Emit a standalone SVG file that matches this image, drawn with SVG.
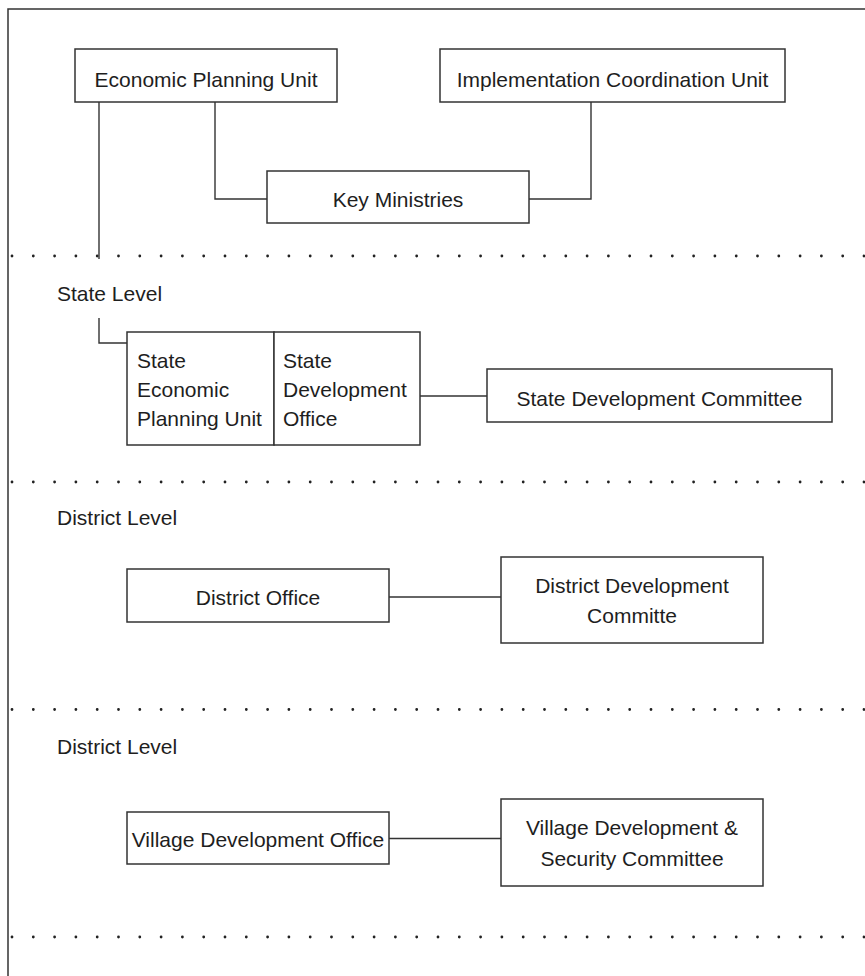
<svg xmlns="http://www.w3.org/2000/svg" width="865" height="976" viewBox="0 0 865 976">
<defs>
<style>
.box{fill:#fff;stroke:#333;stroke-width:1.5}
.con{fill:none;stroke:#333;stroke-width:1.4}
.frame{fill:none;stroke:#333;stroke-width:1.5}
.dots{stroke:#222;stroke-width:2.8;stroke-linecap:round;stroke-dasharray:0 21.3}
text{font-family:"Liberation Sans",Arial,Helvetica,sans-serif;font-size:21px;fill:#1e1e1e}
.c{text-anchor:middle}
</style>
</defs>
<rect x="0" y="0" width="865" height="976" fill="#fff"/>
<path class="frame" d="M8 976 V9 H865"/>
<g id="separators">
<line class="dots" x1="12" y1="256" x2="865" y2="256"/>
<line class="dots" x1="12" y1="482" x2="865" y2="482"/>
<line class="dots" x1="12" y1="709.5" x2="865" y2="709.5"/>
<line class="dots" x1="12" y1="937" x2="865" y2="937"/>
</g>
<g id="level-labels">
<text x="57" y="301">State Level</text>
<text x="57" y="525">District Level</text>
<text x="57" y="754">District Level</text>
</g>
<g id="connectors">
<path class="con" d="M215 102 V199 H267"/>
<path class="con" d="M591 102 V199 H529"/>
<path class="con" d="M99 102 V259"/>
<path class="con" d="M99 318 V343 H127"/>
<path class="con" d="M420 396 H487"/>
<path class="con" d="M389 597 H501"/>
<path class="con" d="M389 838.5 H501"/>
</g>
<g id="economic-planning-unit">
<rect class="box" x="75" y="49" width="262" height="53"/>
<text class="c" x="206" y="87">Economic Planning Unit</text>
</g>
<g id="implementation-coordination-unit">
<rect class="box" x="440" y="49" width="345" height="53"/>
<text class="c" x="612.5" y="87">Implementation Coordination Unit</text>
</g>
<g id="key-ministries">
<rect class="box" x="267" y="171" width="262" height="52"/>
<text class="c" x="398" y="206.5">Key Ministries</text>
</g>
<g id="state-economic-planning-unit">
<rect class="box" x="127" y="332" width="147" height="113"/>
<text x="137" y="368">State</text>
<text x="137" y="397">Economic</text>
<text x="137" y="426">Planning Unit</text>
</g>
<g id="state-development-office">
<rect class="box" x="274" y="332" width="146" height="113"/>
<text x="283" y="368">State</text>
<text x="283" y="397">Development</text>
<text x="283" y="426">Office</text>
</g>
<g id="state-development-committee">
<rect class="box" x="487" y="369" width="345" height="53"/>
<text class="c" x="659.5" y="406">State Development Committee</text>
</g>
<g id="district-office">
<rect class="box" x="127" y="569" width="262" height="53"/>
<text class="c" x="258" y="605">District Office</text>
</g>
<g id="district-development-committe">
<rect class="box" x="501" y="557" width="262" height="86"/>
<text class="c" x="632" y="593">District Development</text>
<text class="c" x="632" y="623">Committe</text>
</g>
<g id="village-development-office">
<rect class="box" x="127" y="812" width="262" height="52"/>
<text class="c" x="258" y="847">Village Development Office</text>
</g>
<g id="village-development-security-committee">
<rect class="box" x="501" y="799" width="262" height="87"/>
<text class="c" x="632" y="835">Village Development &amp;</text>
<text class="c" x="632" y="866">Security Committee</text>
</g>
</svg>
